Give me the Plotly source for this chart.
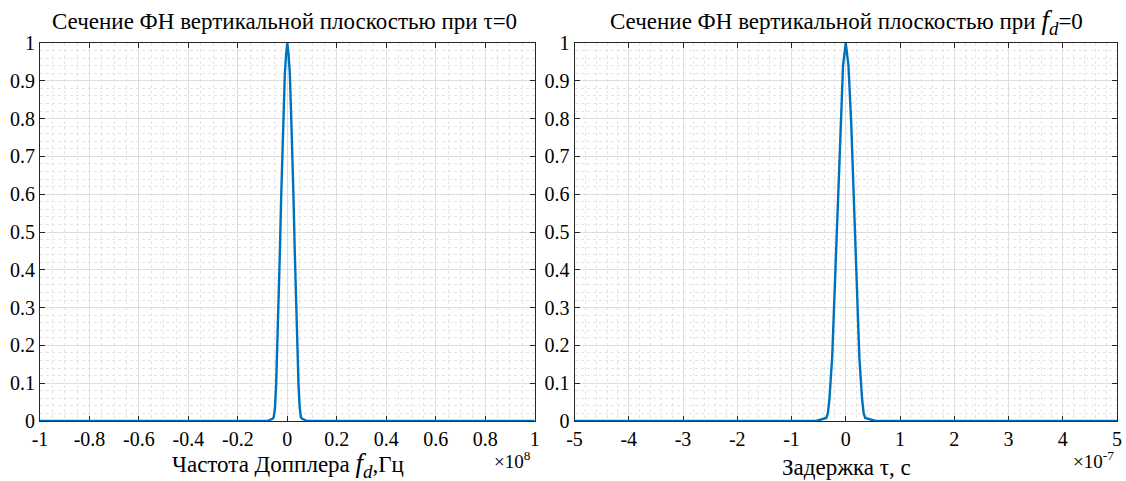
import plotly.graph_objects as go

# Left: section at tau=0, Doppler frequency in MHz
fd_mhz = [-100, -10, -8, -7, -6, -5.5, -5, -4.5, -4, -3.5, -3, -2.5, -2, -1.5, -1, -0.5, 0,
          0.5, 1, 1.5, 2, 2.5, 3, 3.5, 4, 4.5, 5, 5.5, 6, 7, 8, 10, 100]
amb_fd = [0, 0, 0, 0.003, 0.006, 0.01, 0.035, 0.10, 0.20, 0.32, 0.45, 0.59, 0.72, 0.82, 0.92, 0.97, 1.0,
          0.97, 0.92, 0.82, 0.72, 0.59, 0.45, 0.32, 0.20, 0.10, 0.035, 0.01, 0.006, 0.003, 0, 0, 0]

# Right: section at f_d=0, delay in ns
tau_ns = [-500, -60, -55, -50, -42, -36, -33, -30, -25, -20, -15, -10, -5, 0,
          5, 10, 15, 20, 25, 30, 33, 36, 42, 50, 55, 60, 500]
amb_tau = [0, 0, 0, 0.002, 0.005, 0.008, 0.02, 0.06, 0.17, 0.36, 0.58, 0.79, 0.94, 1.0,
           0.94, 0.79, 0.58, 0.36, 0.17, 0.06, 0.02, 0.008, 0.005, 0.002, 0, 0, 0]

xt_left = [-1, -0.8, -0.6, -0.4, -0.2, 0, 0.2, 0.4, 0.6, 0.8, 1]
xt_right = [-5, -4, -3, -2, -1, 0, 1, 2, 3, 4, 5]
yt = [0, 0.1, 0.2, 0.3, 0.4, 0.5, 0.6, 0.7, 0.8, 0.9, 1]

BLUE = "#0072BD"
AX = "#262626"
FONT = "Liberation Serif"
MINOR = "#e4e4e4"

fig = go.Figure()
fig.add_trace(go.Scatter(x=[v * 1e6 for v in fd_mhz], y=amb_fd, mode="lines",
                         line=dict(color=BLUE, width=2.4), xaxis="x", yaxis="y", showlegend=False))
fig.add_trace(go.Scatter(x=[v * 1e-9 for v in tau_ns], y=amb_tau, mode="lines",
                         line=dict(color=BLUE, width=2.4), xaxis="x2", yaxis="y2", showlegend=False))

def fmt(v):
    return "%g" % v

L_DOM = [0, 0.4593]
R_DOM = [0.4963, 1]

fig.update_layout(
    width=1126, height=481, paper_bgcolor="white", plot_bgcolor="white",
    font=dict(family=FONT, size=20, color="#000"),
    margin=dict(l=40, r=4, t=43, b=60), showlegend=False,
    xaxis=dict(domain=L_DOM, anchor="y", range=[-1e8, 1e8], tickmode="array",
               tickvals=[v * 1e8 for v in xt_left], ticktext=[fmt(v) for v in xt_left]),
    yaxis=dict(domain=[0, 1], anchor="x", range=[0, 1], tickmode="array",
               tickvals=yt, ticktext=[fmt(v) for v in yt]),
    xaxis2=dict(domain=R_DOM, anchor="y2", range=[-5e-7, 5e-7], tickmode="array",
                tickvals=[v * 1e-7 for v in xt_right], ticktext=[fmt(v) for v in xt_right]),
    yaxis2=dict(domain=[0, 1], anchor="x2", range=[0, 1], tickmode="array",
                tickvals=yt, ticktext=[fmt(v) for v in yt]),
)
fig.update_xaxes(showline=True, linecolor=AX, linewidth=1, mirror="ticks", ticks="inside",
                 ticklen=5, tickcolor=AX, zeroline=False, showgrid=True, gridcolor="#dedede",
                 layer="below traces", tickfont_family=FONT, tickfont_size=20, tickfont_color="#000")
fig.update_yaxes(showline=True, linecolor=AX, linewidth=1, mirror="ticks", ticks="inside",
                 ticklen=5, tickcolor=AX, zeroline=False, showgrid=True, gridcolor="#dedede",
                 layer="below traces", tickfont_family=FONT, tickfont_size=20, tickfont_color="#000")
fig.layout.xaxis.minor = dict(dtick=0.05e8, showgrid=True, griddash="dot", gridcolor=MINOR)
fig.layout.xaxis2.minor = dict(dtick=0.2e-7, showgrid=True, griddash="dot", gridcolor=MINOR)
fig.layout.yaxis.minor = dict(dtick=0.02, showgrid=True, griddash="dot", gridcolor=MINOR)
fig.layout.yaxis2.minor = dict(dtick=0.02, showgrid=True, griddash="dot", gridcolor=MINOR)

ann = []
tf = dict(family=FONT, size=23, color="#000")
fd_big = "<span style='font-size:27px'><i>f<sub>d</sub></i></span>"
ann.append(dict(text="Сечение ФН вертикальной плоскостью при τ=0", x=286, y=22, font=tf))
ann.append(dict(text="Сечение ФН вертикальной плоскостью при " + fd_big + "=0", x=850, y=22, font=tf))
ann.append(dict(text="Частота Допплера " + fd_big + ",Гц", x=289, y=465, font=tf))
ann.append(dict(text="Задержка τ, с", x=850, y=467, font=tf))
ann.append(dict(text="×10<sup>8</sup>", x=515, y=460, font=dict(family=FONT, size=19, color="#000")))
ann.append(dict(text="×10<sup>-7</sup>", x=1098, y=460, font=dict(family=FONT, size=19, color="#000")))

# convert pixel coords (from top-left) to paper coords
pw = 1126 - 40 - 4
ph = 481 - 43 - 60
for a in ann:
    a["x"] = (a["x"] - 40) / pw
    a["y"] = (481 - a["y"] - 60) / ph
    a["xref"] = "paper"
    a["yref"] = "paper"
    a["xanchor"] = "center"
    a["yanchor"] = "middle"
    a["showarrow"] = False
fig.update_layout(annotations=ann)

fig.write_html("out.html", config={"displayModeBar": False},
               post_script="document.body.style.margin='0';document.body.style.overflow='hidden';")
